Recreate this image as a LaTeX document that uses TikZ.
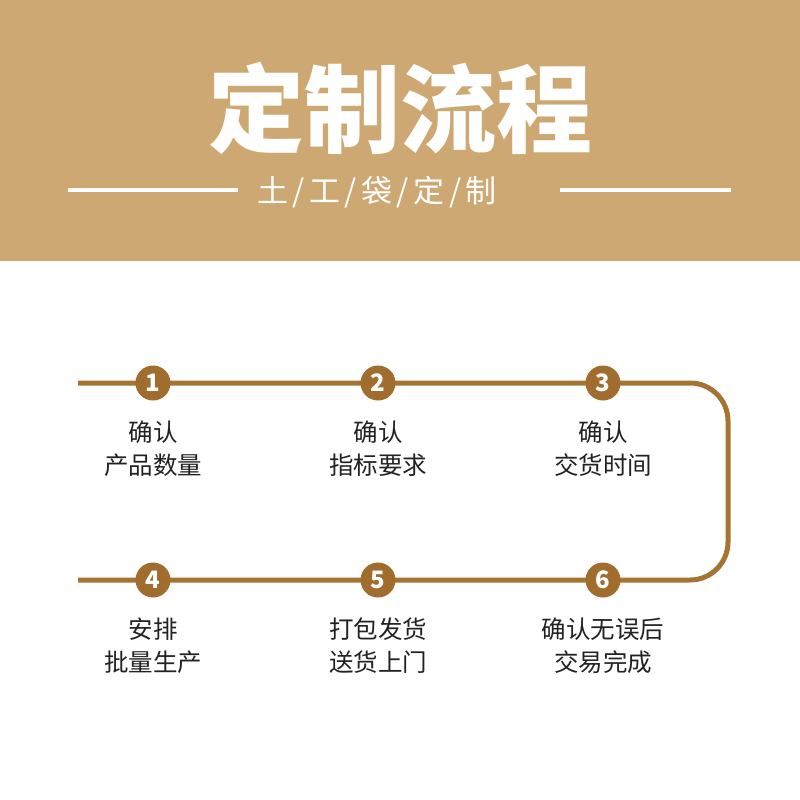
\documentclass[tikz,border=0pt]{standalone}
\usepackage{fontspec}
\newfontfamily\cjk{Noto Sans CJK SC}
\setmainfont{Noto Sans CJK SC}
\definecolor{band}{HTML}{CDA872}
\definecolor{brown}{HTML}{A57433}
\definecolor{circ}{HTML}{A06D2F}
\definecolor{txt}{HTML}{222222}
\newcommand{\subslash}{\hspace{4.5pt}/\hspace{4.5pt}}
\tikzset{
  flow/.style={draw=brown,line width=5pt},
  num/.style={circle,fill=circ,minimum size=35pt,inner sep=0pt,text=white,font=\cjk\bfseries\fontsize{24}{24}\selectfont},
  lbl/.style={align=center,text=txt,font=\cjk\fontsize{24.5}{33}\selectfont,anchor=north}
}
\begin{document}
\begin{tikzpicture}[x=1pt,y=-1pt]
\useasboundingbox (0,0) rectangle (800,800);
\fill[white] (0,0) rectangle (800,800);
\fill[band] (0,0) rectangle (800,261);
\node[text=white,font=\cjk\bfseries\fontsize{96}{96}\selectfont] (title) at (400,108) {定制流程};
\node[text=white,font=\cjk\fontsize{31}{31}\selectfont] (sub) at (377,192) {土\subslash 工\subslash 袋\subslash 定\subslash 制};
\coordinate (l1) at (68,190); \coordinate (l2) at (238,190);
\coordinate (r1) at (560,190); \coordinate (r2) at (731,190);
\draw[white,line width=4pt] (l1) -- (l2);
\draw[white,line width=4pt] (r1) -- (r2);
% flow line
\coordinate (a) at (78,383);
\coordinate (b) at (78,580);
\draw[flow,rounded corners=38pt] (a) -- (728,383) -- (728,580) -- (b);
\node[num] (n1) at (153,383) {1};
\node[num] (n2) at (378,383) {2};
\node[num] (n3) at (603,383) {3};
\node[num] (n4) at (153,580) {4};
\node[num] (n5) at (378,580) {5};
\node[num] (n6) at (603,580) {6};
\node[lbl] (t1) at (153,417) {确认\\产品数量};
\node[lbl] (t2) at (378,417) {确认\\指标要求};
\node[lbl] (t3) at (603,417) {确认\\交货时间};
\node[lbl] (t4) at (153,614) {安排\\批量生产};
\node[lbl] (t5) at (378,614) {打包发货\\送货上门};
\node[lbl] (t6) at (603,614) {确认无误后\\交易完成};
\end{tikzpicture}
\end{document}
